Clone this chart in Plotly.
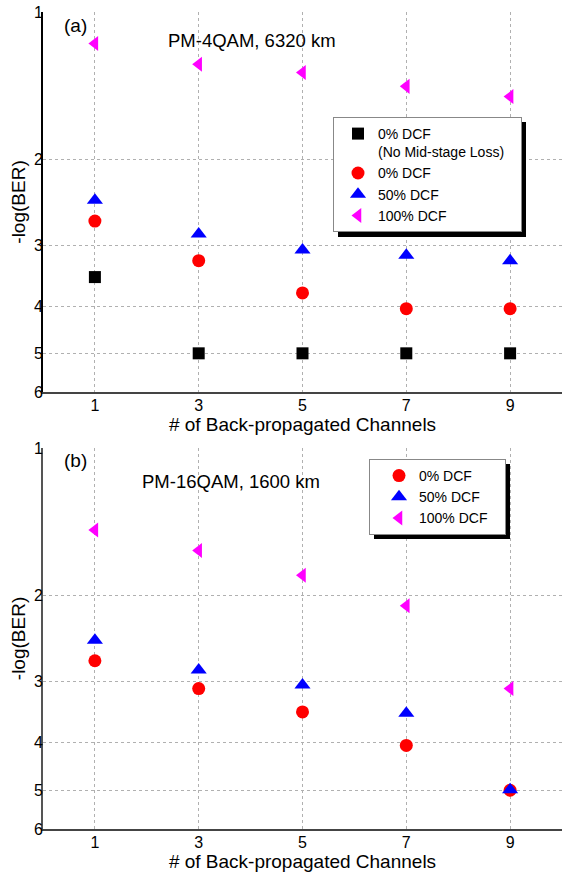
import numpy as np
import plotly.graph_objects as go

# ---------------- data ----------------
channels = [1, 3, 5, 7, 9]
x_ticks = [1, 3, 5, 7, 9]
y_ticks = [1, 2, 3, 4, 5, 6]
y_grid = [2, 3, 4, 5]

# (a) PM-4QAM, 6320 km
a_dcf0_noloss = [3.49, 5.0, 5.0, 5.0, 5.0]
a_dcf0 = [2.68, 3.23, 3.76, 4.05, 4.05]
a_dcf50 = [2.43, 2.85, 3.07, 3.15, 3.23]
a_dcf100 = [1.16, 1.28, 1.33, 1.42, 1.49]

# (b) PM-16QAM, 1600 km
b_dcf0 = [2.72, 3.10, 3.46, 4.05, 5.0]
b_dcf50 = [2.47, 2.84, 3.05, 3.48, 4.99]
b_dcf100 = [1.47, 1.62, 1.82, 2.10, 3.10]

FONT = "Arial, 'Liberation Sans', sans-serif"
W, H = 562, 872
ML, MR, MT, MB = 43, 0, 12, 43
PW, PH = W - ML - MR, H - MT - MB
NB = "\u00a0"


def px(xs):
    return (xs - ML) / PW


def py(ys):
    return (H - MB - ys) / PH


fig = go.Figure()

# panel (a)
fig.add_trace(go.Scatter(x=channels, y=a_dcf0_noloss, mode="markers",
                         name="0% DCF<br>(No Mid-stage Loss)" + NB * 3,
                         marker=dict(symbol="square", size=12, color="black"),
                         xaxis="x", yaxis="y", legend="legend"))
fig.add_trace(go.Scatter(x=channels, y=a_dcf0, mode="markers", name="0% DCF",
                         marker=dict(symbol="circle", size=13, color="#ff0000"),
                         xaxis="x", yaxis="y", legend="legend"))
fig.add_trace(go.Scatter(x=channels, y=a_dcf50, mode="markers", name="50% DCF",
                         marker=dict(symbol="triangle-up", size=14, color="#0000ff"),
                         xaxis="x", yaxis="y", legend="legend"))
fig.add_trace(go.Scatter(x=channels, y=a_dcf100, mode="markers", name="100% DCF",
                         marker=dict(symbol="triangle-left", size=13, color="#ff00ff"),
                         xaxis="x", yaxis="y", legend="legend"))

# panel (b)
fig.add_trace(go.Scatter(x=channels, y=b_dcf0, mode="markers", name="0% DCF",
                         marker=dict(symbol="circle", size=13, color="#ff0000"),
                         xaxis="x2", yaxis="y2", legend="legend2"))
fig.add_trace(go.Scatter(x=channels, y=b_dcf50, mode="markers", name="50% DCF",
                         marker=dict(symbol="triangle-up", size=14, color="#0000ff"),
                         xaxis="x2", yaxis="y2", legend="legend2"))
fig.add_trace(go.Scatter(x=channels, y=b_dcf100, mode="markers", name="100% DCF" + NB * 3,
                         marker=dict(symbol="triangle-left", size=13, color="#ff00ff"),
                         xaxis="x2", yaxis="y2", legend="legend2"))

xaxis_common = dict(range=[0, 10], tickmode="array", tickvals=x_ticks, ticktext=[str(v) for v in x_ticks],
                    showgrid=True, gridcolor="#b0b0b0", griddash="dot", gridwidth=1,
                    zeroline=False, showline=True, linecolor="#444444", linewidth=2, ticks="",
                    ticklabelstandoff=-2,
                    tickfont=dict(family=FONT, size=16, color="black"),
                    title=dict(text="# of Back-propagated Channels", font=dict(family=FONT, size=19, color="black"),
                               standoff=0),
                    automargin=False, fixedrange=True)
yaxis_common = dict(type="log", range=[np.log10(6), 0], tickmode="array", tickvals=y_ticks,
                    ticktext=[str(v) for v in y_ticks], showgrid=False,
                    minor=dict(tickmode="array", tickvals=y_grid, showgrid=True, gridcolor="#b0b0b0",
                               griddash="dot", gridwidth=1, ticks=""),
                    zeroline=False, showline=True, linecolor="black", linewidth=2, ticks="",
                    ticklabelstandoff=-5, ticklabeloverflow="allow",
                    tickfont=dict(family=FONT, size=16, color="black"),
                    title=dict(text="-log(BER)", font=dict(family=FONT, size=19, color="black"), standoff=3),
                    automargin=False, fixedrange=True)

top_lo = py(392)
bot_hi = py(448)

LEG_FONT = 14
# legend boxes (px): top-left corner and rendered size
A_X, A_Y, A_W, A_H = 333, 117, 188, 115
B_X, B_Y, B_W, B_H = 369, 459, 136, 75
SH = 5

fig.update_layout(
    width=W, height=H,
    margin=dict(l=ML, r=MR, t=MT, b=MB),
    paper_bgcolor="white", plot_bgcolor="white",
    font=dict(family=FONT, size=15, color="black"),
    xaxis=dict(xaxis_common, anchor="y", domain=[0, 1]),
    yaxis=dict(yaxis_common, anchor="x", domain=[top_lo, 1]),
    xaxis2=dict(xaxis_common, anchor="y2", domain=[0, 1]),
    yaxis2=dict(yaxis_common, anchor="x2", domain=[0, bot_hi], linecolor="#555555"),
    legend=dict(x=px(A_X), y=py(A_Y), xanchor="left", yanchor="top", bgcolor="white",
                bordercolor="#888888", borderwidth=1, valign="top", indentation=4,
                font=dict(family=FONT, size=LEG_FONT, color="black"), tracegroupgap=0),
    legend2=dict(x=px(B_X), y=py(B_Y), xanchor="left", yanchor="top", bgcolor="white",
                 bordercolor="#888888", borderwidth=1, indentation=9,
                 font=dict(family=FONT, size=LEG_FONT, color="black"), tracegroupgap=0),
    showlegend=True,
    shapes=[
        dict(type="rect", xref="paper", yref="paper", x0=px(A_X + SH), x1=px(A_X + A_W + SH),
             y0=py(A_Y + A_H + SH), y1=py(A_Y + SH),
             fillcolor="black", line=dict(width=0), layer="above"),
        dict(type="rect", xref="paper", yref="paper", x0=px(B_X + SH), x1=px(B_X + B_W + SH),
             y0=py(B_Y + B_H + SH), y1=py(B_Y + SH),
             fillcolor="black", line=dict(width=0), layer="above"),
    ],
    annotations=[
        dict(text="(a)", xref="paper", yref="paper", x=px(62), y=py(25), xanchor="left", yanchor="middle",
             showarrow=False, font=dict(family=FONT, size=19, color="black")),
        dict(text="PM-4QAM, 6320 km", xref="paper", yref="paper", x=px(166), y=py(40), xanchor="left",
             yanchor="middle", showarrow=False, font=dict(family=FONT, size=18.5, color="black")),
        dict(text="(b)", xref="paper", yref="paper", x=px(62), y=py(460), xanchor="left", yanchor="middle",
             showarrow=False, font=dict(family=FONT, size=19, color="black")),
        dict(text="PM-16QAM, 1600 km", xref="paper", yref="paper", x=px(140), y=py(481), xanchor="left",
             yanchor="middle", showarrow=False, font=dict(family=FONT, size=18.5, color="black")),
    ],
)

fig.write_html("out.html", config={"displayModeBar": False},
               post_script="document.body.style.margin='0px';")
